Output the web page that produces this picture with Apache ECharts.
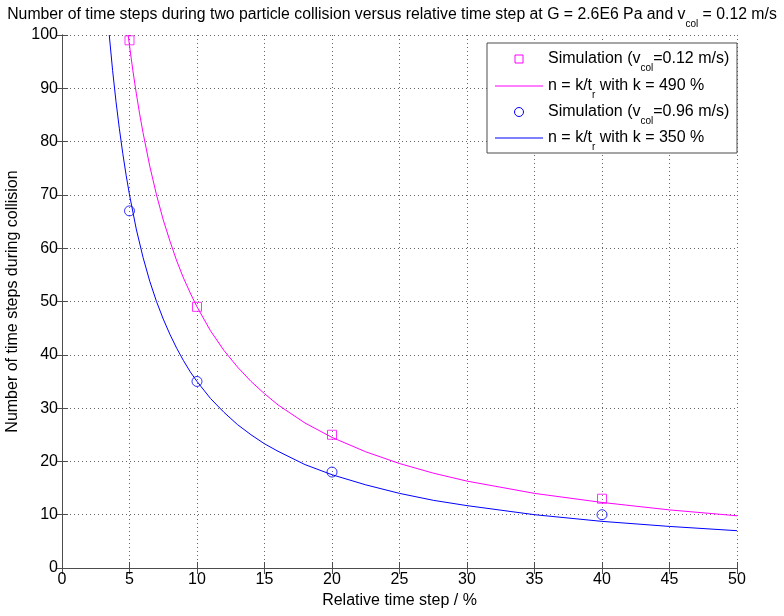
<!DOCTYPE html>
<html>
<head>
<meta charset="utf-8">
<script src="https://cdn.jsdelivr.net/npm/echarts@6/dist/echarts.min.js"></script>
<style>
html,body{margin:0;padding:0;background:#fff;}
#chart{width:784px;height:616px;}
</style>
</head>
<body>
<div id="chart"></div>
<script>
// Simulation points (relative time step %, number of steps)
const simX = [5, 10, 20, 40];
const simSlow = [99, 49, 25, 13];   // v_col = 0.12 m/s
const simFast = [67, 35, 18, 10];   // v_col = 0.96 m/s

// Fitted curves
const fitSlowX = [4.9, 5, 5.25, 5.5, 5.75, 6, 6.5, 7, 7.5, 8, 8.5, 9, 9.5, 10, 11, 12, 13, 14, 15, 16, 18, 20, 22.5, 25, 27.5, 30, 35, 40, 45, 50];
const fitSlowY = [100, 98, 93.3, 89.1, 85.2, 81.7, 75.4, 70, 65.3, 61.3, 57.6, 54.4, 51.6, 49, 44.5, 40.8, 37.7, 35, 32.7, 30.6, 27.2, 24.5, 21.8, 19.6, 17.8, 16.3, 14, 12.3, 10.9, 9.8];
const fitFastX = [3.5, 3.75, 4, 4.25, 4.5, 4.75, 5, 5.5, 6, 6.5, 7, 7.5, 8, 8.5, 9, 9.5, 10, 11, 12, 13, 14, 15, 16, 18, 20, 22.5, 25, 27.5, 30, 35, 40, 45, 50];
const fitFastY = [100, 93.3, 87.5, 82.4, 77.8, 73.7, 70, 63.6, 58.3, 53.8, 50, 46.7, 43.8, 41.2, 38.9, 36.8, 35, 31.8, 29.2, 26.9, 25, 23.3, 21.9, 19.4, 17.5, 15.6, 14, 12.7, 11.7, 10, 8.75, 7.8, 7];

const xTicks = [0, 5, 10, 15, 20, 25, 30, 35, 40, 45, 50];
const yTicks = [0, 10, 20, 30, 40, 50, 60, 70, 80, 90, 100];

const legendLabels = [
  '{a|Simulation (v}{s|col}{a|=0.12 m/s)}',
  '{a|n = k/t}{s|r}{a| with k = 490 %}',
  '{a|Simulation (v}{s|col}{a|=0.96 m/s)}',
  '{a|n = k/t}{s|r}{a| with k = 350 %}'
];

const FONT = 'Liberation Sans, Arial, sans-serif';
const FS = 16;
const AXIS_COLOR = '#4d4d4d';
const MAGENTA = '#ff00ff';
const BLUE = '#0000ff';

function zip(xs, ys) { return xs.map((x, i) => [x, ys[i]]); }

const chart = echarts.init(document.getElementById('chart'), null, {renderer: 'canvas'});

const rich = {
  a: {fontSize: FS, fontFamily: FONT, color: '#000', fontWeight: 'normal', lineHeight: 18, verticalAlign: 'middle'},
  s: {fontSize: 10, fontFamily: FONT, color: '#000', fontWeight: 'normal', lineHeight: 18, verticalAlign: 'bottom', padding: [0, 0, -5, 0]}
};
const titleRich = {
  a: Object.assign({}, rich.a, {fontSize: 15.8}),
  s: rich.s
};

// Legend drawn as graphic elements (box, keys, labels)
const LX = 487, LY = 43, LW = 250, LH = 110;
const rowY = [59, 86, 112, 138];
const legendGraphic = [
  {type: 'rect', shape: {x: LX, y: LY, width: LW, height: LH},
   style: {fill: '#fff', stroke: AXIS_COLOR, lineWidth: 1}, z: 100},
  {type: 'rect', shape: {x: 515, y: rowY[0] - 4, width: 8, height: 8},
   style: {fill: 'none', stroke: MAGENTA, lineWidth: 1}, z: 101},
  {type: 'line', shape: {x1: 495, y1: rowY[1], x2: 543, y2: rowY[1]},
   style: {stroke: MAGENTA, lineWidth: 1}, z: 101},
  {type: 'circle', shape: {cx: 519, cy: rowY[2], r: 4.5},
   style: {fill: 'none', stroke: BLUE, lineWidth: 1}, z: 101},
  {type: 'line', shape: {x1: 495, y1: rowY[3], x2: 543, y2: rowY[3]},
   style: {stroke: BLUE, lineWidth: 1}, z: 101}
].concat(legendLabels.map((t, i) => ({
  type: 'text', x: 548, y: rowY[i], z: 101,
  style: {text: t, rich: rich, verticalAlign: 'middle', align: 'left'}
})));

const baseAxisLine = {show: true, lineStyle: {color: AXIS_COLOR, width: 1}};
const tick = {show: true, inside: true, length: 6, lineStyle: {color: AXIS_COLOR}};
const grid = {show: true, lineStyle: {color: '#666', type: [1, 3], width: 1}};
const labelStyle = {fontSize: FS, fontFamily: FONT, color: '#000', margin: 4};

const option = {
  backgroundColor: '#fff',
  animation: false,
  title: {
    text: '{a|Number of time steps during two particle collision versus relative time step at G = 2.6E6 Pa and v}{s|col}{a| = 0.12 m/s}',
    left: 'center',
    top: 1,
    textStyle: {fontWeight: 'normal', rich: titleRich}
  },
  grid: {left: 62, right: 47, top: 35, bottom: 48, containLabel: false, outerBoundsMode: 'none'},
  graphic: legendGraphic,
  xAxis: [
    {
      type: 'value', min: 0, max: 50, interval: 5, position: 'bottom',
      name: 'Relative time step / %', nameLocation: 'middle', nameGap: 24,
      nameTextStyle: {fontSize: FS, fontFamily: FONT, color: '#000'},
      axisLine: baseAxisLine, axisTick: tick,
      axisLabel: Object.assign({formatter: v => xTicks.includes(v) ? String(v) : ''}, labelStyle),
      splitLine: grid
    },
    {
      type: 'value', min: 0, max: 50, interval: 5, position: 'top',
      axisLine: baseAxisLine, axisTick: tick,
      axisLabel: {show: false}, splitLine: {show: false}
    }
  ],
  yAxis: [
    {
      type: 'value', min: 0, max: 100, interval: 10, position: 'left',
      name: 'Number of time steps during collision', nameLocation: 'middle', nameGap: 32,
      nameTextStyle: {fontSize: FS, fontFamily: FONT, color: '#000'},
      axisLine: baseAxisLine, axisTick: tick,
      axisLabel: Object.assign({formatter: v => yTicks.includes(v) ? String(v) : ''}, labelStyle),
      splitLine: grid
    },
    {
      type: 'value', min: 0, max: 100, interval: 10, position: 'right',
      axisLine: baseAxisLine, axisTick: tick,
      axisLabel: {show: false}, splitLine: {show: false}
    }
  ],
  series: [
    {
      name: 'fit1', type: 'line', xAxisIndex: 0, yAxisIndex: 0,
      data: zip(fitSlowX, fitSlowY), symbol: 'none', showSymbol: false,
      smooth: false, clip: true,
      lineStyle: {color: MAGENTA, width: 1}, itemStyle: {color: MAGENTA}, z: 3
    },
    {
      name: 'fit2', type: 'line', xAxisIndex: 0, yAxisIndex: 0,
      data: zip(fitFastX, fitFastY), symbol: 'none', showSymbol: false,
      smooth: false, clip: true,
      lineStyle: {color: BLUE, width: 1}, itemStyle: {color: BLUE}, z: 3
    },
    {
      name: 'sim1', type: 'scatter', xAxisIndex: 0, yAxisIndex: 0,
      data: zip(simX, simSlow), symbol: 'rect', symbolSize: 9,
      itemStyle: {color: 'rgba(0,0,0,0)', borderColor: MAGENTA, borderWidth: 1}, z: 4
    },
    {
      name: 'sim2', type: 'scatter', xAxisIndex: 0, yAxisIndex: 0,
      data: zip(simX, simFast), symbol: 'circle', symbolSize: 10,
      itemStyle: {color: 'rgba(0,0,0,0)', borderColor: BLUE, borderWidth: 1}, z: 4
    }
  ]
};

chart.setOption(option);
</script>
</body>
</html>
